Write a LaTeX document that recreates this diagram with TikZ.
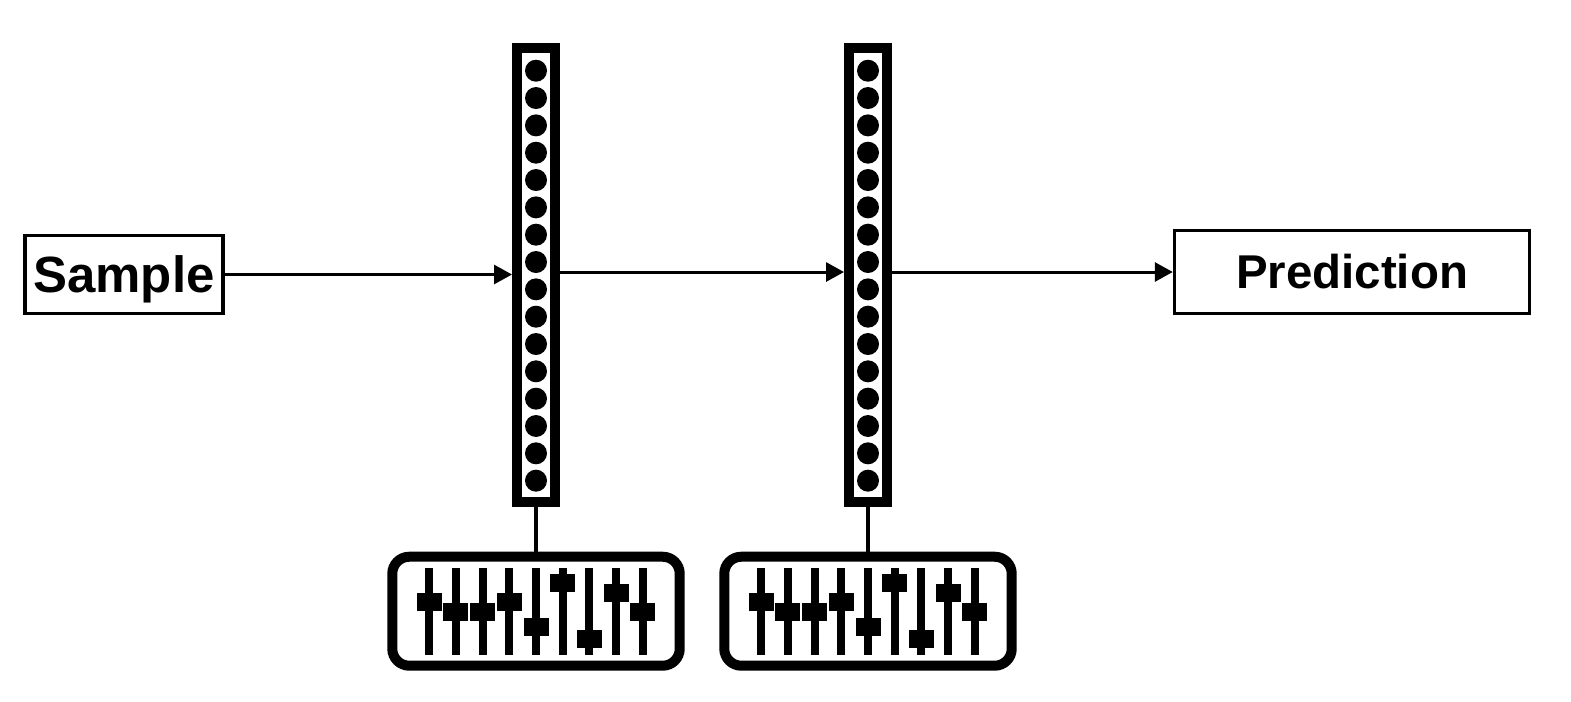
\documentclass[tikz,border=0pt]{standalone}
\usepackage{fontspec}
\setmainfont{Liberation Sans}
\usetikzlibrary{arrows.meta}

\tikzset{
  box/.style={draw, line width=0.07cm, inner sep=0, font=\bfseries},
  neurons/.style={draw, line width=0.2cm, minimum width=0.76cm, minimum height=9.08cm, inner sep=0},
  panel/.style={draw, line width=0.2cm, rounded corners=0.34cm, minimum width=5.75cm, minimum height=2.18cm, inner sep=0},
  link/.style={line width=0.06cm, -{Triangle[length=0.36cm, width=0.38cm]}},
  stem/.style={line width=0.08cm}
}

\begin{document}
\begin{tikzpicture}[x=0.02cm, y=-0.02cm]
	\useasboundingbox (0,0) rectangle (1571,701);

	% input and output
	\node[box, minimum width=3.96cm, minimum height=1.56cm, font=\bfseries\fontsize{29}{30}\selectfont, text depth=0pt] (sample) at (124,274.5) {Sample};
	\node[box, minimum width=7.1cm, minimum height=1.66cm, font=\bfseries\fontsize{27}{29}\selectfont] (pred) at (1352,272) {Prediction};

	% the two layers, each with its panel of sliders
	\foreach \n/\cx in {1/536, 2/868} {
		\node[neurons] (col\n) at (\cx,275) {};
		\foreach \i in {0,...,15}
			\fill (\cx,70.7+27.33*\i) circle (0.22cm);
		\node[panel] (knobs\n) at (\cx,611.2) {};
		\draw[stem] (col\n.south) -- (knobs\n.north);
		\foreach \k/\ky in {-4/601.7, -3/612.3, -2/612.3, -1/601.7, 0/626.7, 1/583.3, 2/639, 3/593.3, 4/612.3} {
			\fill (\cx+26.7*\k-4,567.5) rectangle ++(8,87.5);
			\fill (\cx+26.7*\k-12.5,\ky-9) rectangle ++(25,18);
		}
	}

	\draw[link] (sample.east) -- (sample.east -| col1.west);
	\draw[link] (col1.east |- pred) -- (col2.west |- pred);
	\draw[link] (col2.east |- pred) -- (pred.west);

\end{tikzpicture}
\end{document}
